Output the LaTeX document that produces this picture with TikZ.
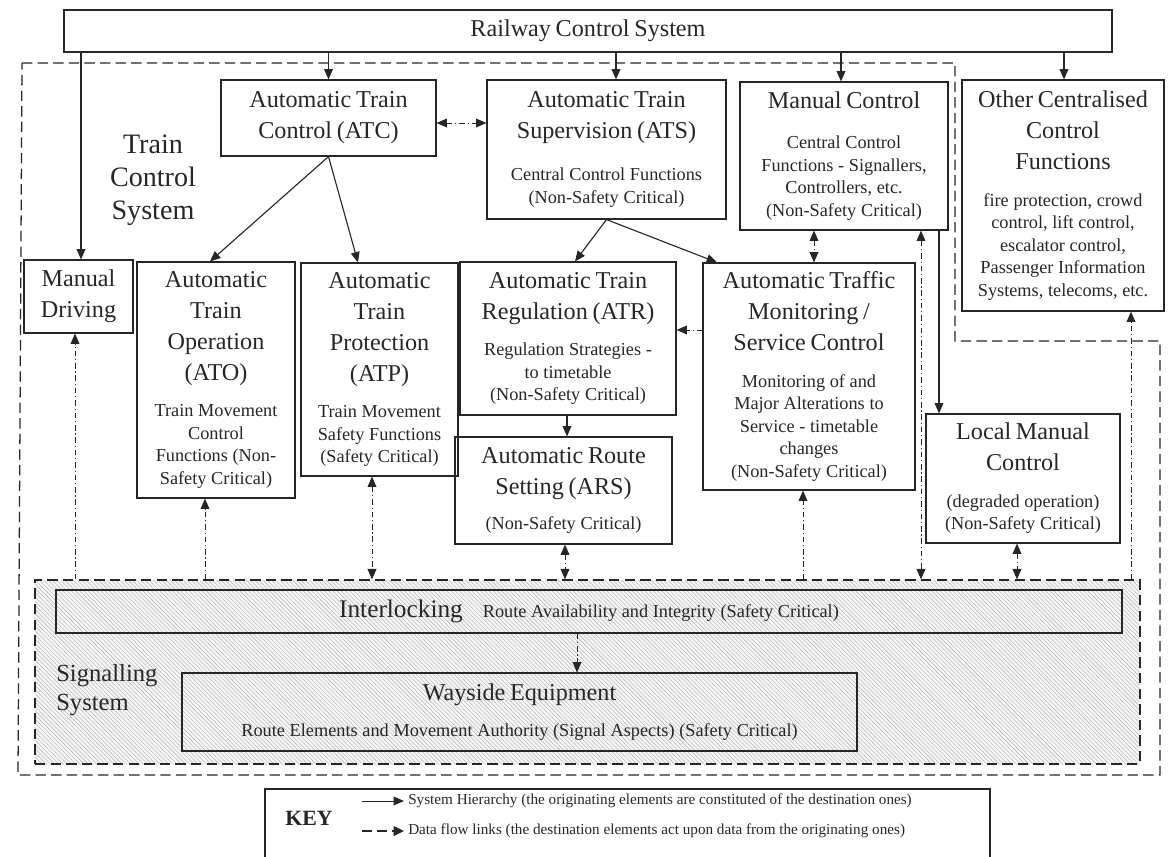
\documentclass[tikz,border=0pt]{standalone}
\usepackage{fontspec}
\setmainfont{Liberation Serif}
\usepackage{tikz}
\usetikzlibrary{arrows.meta, positioning, patterns}
\definecolor{ink}{HTML}{262626}
\definecolor{hatch}{HTML}{BDBDBD}
\newcommand{\ttl}{\fontsize{17.2}{22}\selectfont}
\newcommand{\sml}{\fontsize{13}{16}\selectfont}
\newcommand{\keyf}{\fontsize{10.8}{13}\selectfont}
\tikzset{
  blk/.style={rectangle, draw=ink, line width=0.8pt, inner sep=0pt, align=center, text=ink},
  lbl/.style={align=center, text=ink, inner sep=0pt},
  hier/.style={-{Triangle[length=2.6mm, width=2.2mm]}, draw=ink, line width=0.8pt},
  flow/.style={-{Triangle[length=2.6mm, width=2.2mm]}, draw=ink, line width=0.7pt, dash pattern=on 1.4mm off 0.7mm on 0.3mm off 0.7mm},
  flowb/.style={flow, {Triangle[length=2.6mm, width=2.2mm]}-{Triangle[length=2.6mm, width=2.2mm]}},
  grp/.style={draw=ink, line width=0.9pt, dash pattern=on 2.6mm off 1.3mm},
}

\begin{document}
\begin{tikzpicture}[x=0.25mm, y=-0.25mm]
\useasboundingbox (0,0) rectangle (1169,857);
\clip (0,0) rectangle (1169,857);

\node[blk, minimum width=262mm, minimum height=10.5mm, text width=255mm] (rcs) at (588,31) {{\ttl Railway Control System\par}};

% train control system and signalling system
\draw[grp] (22,63) -- (955,63) -- (955,341) -- (1160,341) -- (1160,775) -- (18,775) -- cycle;
\node[grp, minimum width=276.25mm, minimum height=46mm, inner sep=0pt, preaction={fill=gray!6}, pattern=north west lines, pattern color=hatch] (sig) at (587.5,672) {};
\node[lbl, font=\fontsize{20}{23.5}\selectfont] (tcs) at (153,180) {Train\\Control\\System};
\node[lbl, font=\fontsize{17.5}{20.5}\selectfont, align=left, anchor=west] (sigl) at (56,690) {Signalling\\System};

\node[blk, minimum width=53.75mm, minimum height=19mm, text width=52mm] (atc) at (328.5,118) {{\ttl Automatic Train\\Control (ATC)\par}};
\node[blk, minimum width=59.75mm, minimum height=34.75mm, text width=58mm] (ats) at (606.5,149.5) {{\ttl Automatic Train\\Supervision (ATS)\par}\vspace{5mm}{\sml Central Control Functions\\(Non-Safety Critical)\par}};
\node[blk, minimum width=52mm, minimum height=37mm, text width=50mm] (mc) at (844,156) {{\ttl Manual Control\par}\vspace{4.3mm}{\sml Central Control\\Functions - Signallers,\\Controllers, etc.\\(Non-Safety Critical)\par}};
\node[blk, minimum width=50.5mm, minimum height=57.75mm, text width=49mm] (ocf) at (1063,195.5) {{\ttl Other Centralised\\Control\\Functions\par}\vspace{3.5mm}{\sml fire protection, crowd\\control, lift control,\\escalator control,\\Passenger Information\\Systems, telecoms, etc.\par}};
\node[blk, minimum width=27.25mm, minimum height=18.25mm, text width=26mm] (md) at (78.5,296.5) {{\ttl Manual\\Driving\par}};
\node[blk, minimum width=39.5mm, minimum height=59mm, text width=38mm] (ato) at (216,380) {{\ttl Automatic\\Train\\Operation\\(ATO)\par}\vspace{3.5mm}{\sml Train Movement\\Control\\Functions (Non-\\Safety Critical)\par}};
\node[blk, minimum width=39.25mm, minimum height=53.25mm, text width=38mm] (atp) at (379.5,369.5) {{\ttl Automatic\\Train\\Protection\\(ATP)\par}\vspace{3.5mm}{\sml Train Movement\\Safety Functions\\(Safety Critical)\par}};
\node[blk, minimum width=54mm, minimum height=38.25mm, text width=52mm] (atr) at (568,338.5) {{\ttl Automatic Train\\Regulation (ATR)\par}\vspace{3.5mm}{\sml Regulation Strategies -\\to timetable\\(Non-Safety Critical)\par}};
\node[blk, minimum width=54.25mm, minimum height=26.75mm, text width=52mm] (ars) at (563.5,490.5) {{\ttl Automatic Route\\Setting (ARS)\par}\vspace{3.3mm}{\sml (Non-Safety Critical)\par}};
\node[blk, minimum width=53mm, minimum height=56.75mm, text width=51mm] (atms) at (809,376.5) {{\ttl Automatic Traffic\\Monitoring /\\Service Control\par}\vspace{3.5mm}{\sml Monitoring of and\\Major Alterations to\\Service - timetable\\changes\\(Non-Safety Critical)\par}};
\node[blk, minimum width=48.5mm, minimum height=32.25mm, text width=47mm] (lmc) at (1023,478.5) {{\ttl Local Manual\\Control\par}\vspace{3.5mm}{\sml (degraded operation)\\(Non-Safety Critical)\par}};
\node[blk, minimum width=266.5mm, minimum height=10.75mm, text width=260mm] (ilk) at (589,611.5) {{\fontsize{18}{21}\selectfont Interlocking}\hspace{5mm}{\sml Route Availability and Integrity (Safety Critical)}\par};
\node[blk, minimum width=168.75mm, minimum height=19.5mm, text width=165mm] (way) at (519.5,712) {{\ttl Wayside Equipment\par}\vspace{3.5mm}{\sml Route Elements and Movement Authority (Signal Aspects) (Safety Critical)\par}};

\draw[hier] (81,0 |- rcs.south) -- (81,0 |- md.north);
\draw[hier] (rcs.south -| atc.north) -- (atc.north);
\draw[hier] (616,0 |- rcs.south) -- (616,0 |- ats.north);
\draw[hier] (841,0 |- rcs.south) -- (841,0 |- mc.north);
\draw[hier] (1064,0 |- rcs.south) -- (1064,0 |- ocf.north);
\draw[hier] (atc.south) -- (210,0 |- ato.north);
\draw[hier] (atc.south) -- (358,0 |- atp.north);
\draw[hier] (ats.south) -- (575,0 |- atr.north);
\draw[hier] (ats.south) -- (717,0 |- atms.north);
\draw[hier] (939,0 |- mc.south) -- (939,0 |- lmc.north);
\draw[hier] (567,0 |- atr.south) -- (567,0 |- ars.north);

\draw[flowb] (atc.east |- 0,123) -- (ats.west |- 0,123);
\draw[flow] (atms.west |- 0,330) -- (atr.east |- 0,330);
\draw[flowb] (814,0 |- mc.south) -- (814,0 |- atms.north);
\draw[flow] (75,0 |- sig.north) -- (75,0 |- md.south);
\draw[flow] (205,0 |- sig.north) -- (205,0 |- ato.south);
\draw[flowb] (372,0 |- atp.south) -- (372,0 |- sig.north);
\draw[flowb] (565,0 |- ars.south) -- (565,0 |- sig.north);
\draw[flow] (803,0 |- sig.north) -- (803,0 |- atms.south);
\draw[flowb] (921,0 |- mc.south) -- (921,0 |- sig.north);
\draw[flowb] (1017,0 |- lmc.south) -- (1017,0 |- sig.north);
\draw[flow] (1131,0 |- sig.north) -- (1131,0 |- ocf.south);
\draw[flow] (577,0 |- ilk.south) -- (577,0 |- way.north);

% key
\node[blk, minimum width=181.25mm, minimum height=22.75mm] (key) at (627.5,834.5) {};
\node[lbl, font=\bfseries\fontsize{15.5}{18}\selectfont] (keyt) at (309,818) {KEY};
\coordinate (h0) at (362,801);
\coordinate (h1) at (404,801);
\coordinate (d0) at (362,831);
\coordinate (d1) at (404,831);
\draw[hier, line width=0.6pt] (h0) -- (h1);
\draw[ink, line width=1.3pt, dash pattern=on 2.4mm off 1.4mm, -{Triangle[length=2.6mm, width=2.4mm]}] (d0) -- (d1);
\node[lbl, anchor=west, font=\keyf] (htxt) at (408,801) {System Hierarchy (the originating elements are constituted of the destination ones)};
\node[lbl, anchor=west, font=\keyf] (dtxt) at (408,831) {Data flow links (the destination elements act upon data from the originating ones)};
\end{tikzpicture}
\end{document}
